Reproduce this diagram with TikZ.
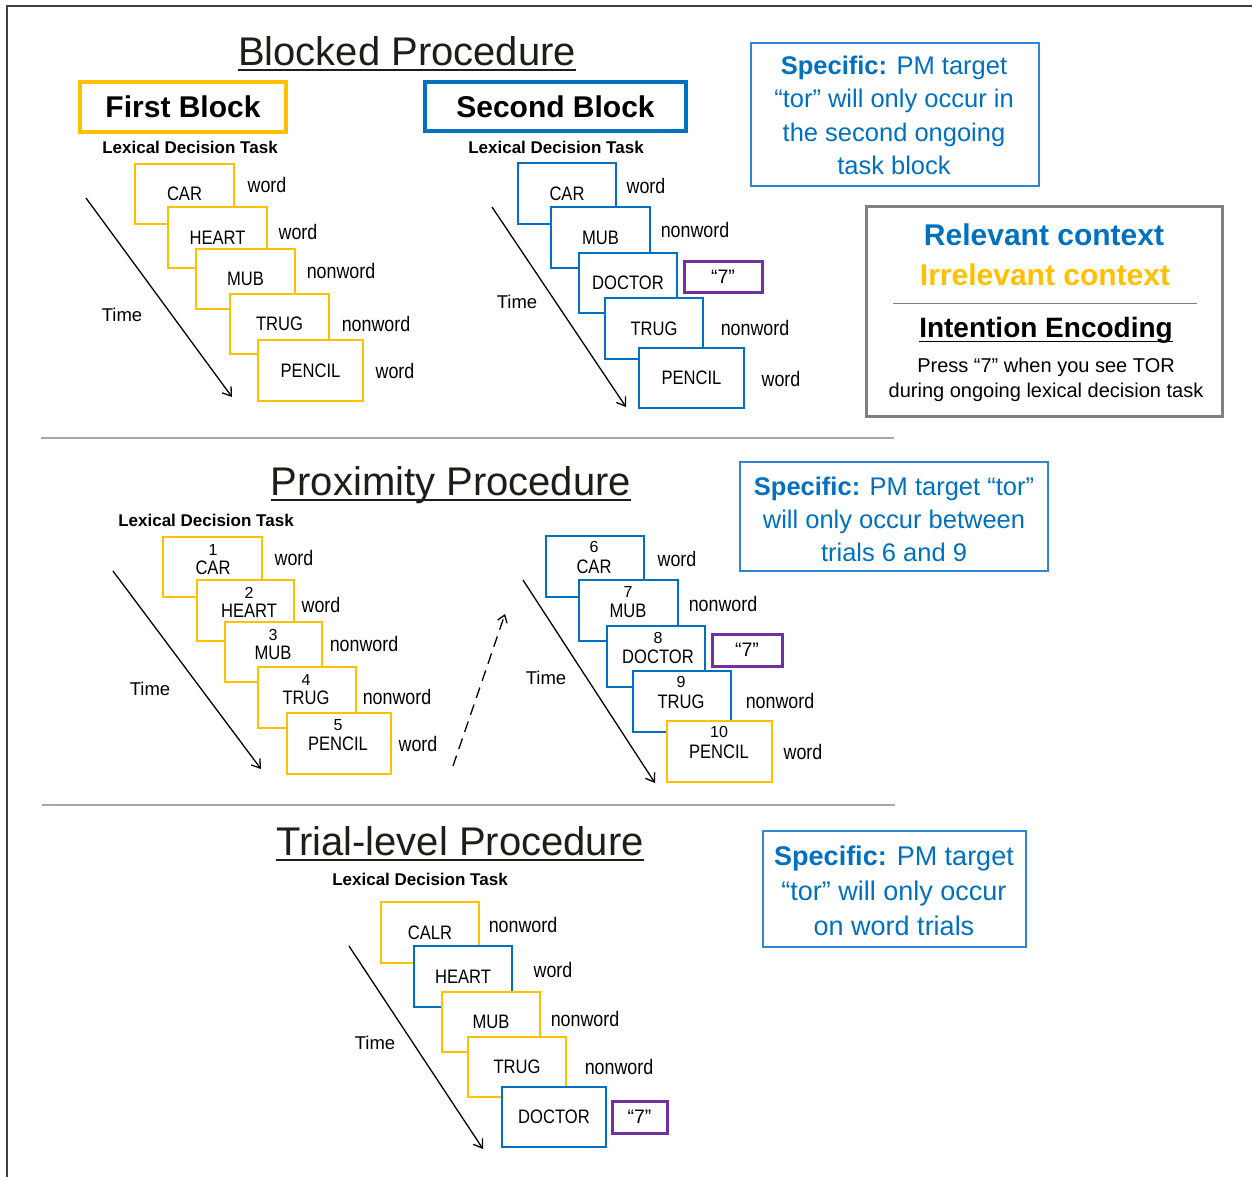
\documentclass[tikz,border=0pt]{standalone}
\usepackage{fontspec}
\setmainfont{Liberation Sans}
\newfontfamily\condf[FakeStretch=0.85]{Liberation Sans}
\usetikzlibrary{arrows.meta,calc}
\definecolor{gold}{HTML}{FFC000}
\definecolor{cblue}{HTML}{0070C0}
\definecolor{bblue}{HTML}{2E86D1}
\definecolor{pmc}{HTML}{7030A0}
\definecolor{sepc}{HTML}{A8A8A0}
\definecolor{framec}{HTML}{404040}
\definecolor{gboxc}{HTML}{808080}
\definecolor{ttlc}{HTML}{1E1E18}
\newcommand\fs[1]{\fontsize{#1}{#1}\selectfont}
% box macro: style, name, x1, y1, x2, y2, text
\newcommand\bx[7]{\node[#1, minimum width={(#5-#3)*1pt}, minimum height={(#6-#4)*1pt}] (#2) at ({(#3+#5)/2},{(#4+#6)/2}) {#7};}
\tikzset{
  card/.style={draw, line width=2pt, fill=white, inner sep=0pt, font=\condf\fs{19.5}},
  ylw/.style={card, draw=gold},
  blu/.style={card, draw=cblue},
  lbl/.style={font=\condf\fs{21}, inner sep=0pt},
  num/.style={font=\fs{16}, inner sep=0pt},
  wrd/.style={font=\condf\fs{19.5}, inner sep=0pt},
  timearrow/.style={line width=1.3pt, -{Straight Barb[length=8pt,width=11pt]}},
  timelbl/.style={font=\fs{18.5}, inner sep=0pt},
  ldt/.style={font=\bfseries\fs{17}, inner sep=0pt},
  ttl/.style={font=\fs{40}, text=ttlc, inner sep=0pt, anchor=base},
  uline/.style={line width=2pt, draw=ttlc},
  seven/.style={draw=pmc, line width=3pt, inner sep=0pt, font=\fs{19.5}},
  spec/.style={font=\fs{25.5}, text=cblue, inner sep=0pt, anchor=base},
  specbox/.style={draw=bblue, line width=1.5pt, inner sep=0pt},
  blockbox/.style={line width=3.5pt, inner sep=0pt, font=\bfseries\fs{30}},
  sepline/.style={draw=sepc, line width=1.5pt},
}
\begin{document}
\begin{tikzpicture}[x=1pt, y=-1pt]
\useasboundingbox (0,0) rectangle (1252,1177);
\fill[white] (0,0) rectangle (1252,1177);
% frame
\coordinate (fr1) at (7,1177);
\coordinate (fr2) at (7,6);
\coordinate (fr3) at (1252,6);
\draw[framec, line width=2pt] (fr1) -- (fr2) -- (fr3);
% separators
\coordinate (sa1) at (41,438); \coordinate (sa2) at (894,438);
\coordinate (sb1) at (42,805); \coordinate (sb2) at (895,805);
\draw[sepline] (sa1) -- (sa2);
\draw[sepline] (sb1) -- (sb2);

%%%%%%%%%%%%%%%% BLOCKED
\node[ttl] (t1) at (407,66) {Blocked Procedure};
\draw[uline] ($(t1.base west)+(0,4.5)$) -- ($(t1.base east)+(0,4.5)$);
\bx{blockbox, draw=gold}{fb}{80}{82}{286}{132}{First Block}
\bx{blockbox, draw=cblue}{sb}{425}{82}{686}{131}{Second Block}
\node[ldt] (ldt1) at (190,147) {Lexical Decision Task};
\node[ldt] (ldt2) at (556,147) {Lexical Decision Task};
% first block cards
\bx{ylw}{a1}{135}{164}{234}{224}{CAR}
\bx{ylw}{a2}{168}{207}{267}{268}{HEART}
\bx{ylw}{a3}{196}{249}{295}{309}{MUB}
\bx{ylw}{a4}{230}{294}{329}{354}{TRUG}
\bx{ylw}{a5}{258}{340}{363}{401}{PENCIL}
\node[lbl] (la1) at (267,185) {word};
\node[lbl] (la2) at (298,232) {word};
\node[lbl] (la3) at (341,271) {nonword};
\node[lbl] (la4) at (376,324) {nonword};
\node[lbl] (la5) at (395,371) {word};
\coordinate (ta1) at (86,198); \coordinate (ta2) at (232,397);
\draw[timearrow] (ta1) -- (ta2);
\node[timelbl] (tla) at (122,315) {Time};
% second block cards
\bx{blu}{b1}{518}{163}{616}{224}{CAR}
\bx{blu}{b2}{551}{207}{650}{268}{MUB}
\bx{blu}{b3}{579}{253}{677}{313}{DOCTOR}
\bx{blu}{b4}{605}{298}{703}{359}{TRUG}
\bx{blu}{b5}{639}{348}{744}{408}{PENCIL}
\node[lbl] (lb1) at (646,186) {word};
\node[lbl] (lb2) at (695,230) {nonword};
\bx{seven}{sv1}{684}{261}{762}{292}{“7”}
\node[lbl] (lb4) at (755,328) {nonword};
\node[lbl] (lb5) at (781,379) {word};
\coordinate (tb1) at (492,207); \coordinate (tb2) at (626,407);
\draw[timearrow] (tb1) -- (tb2);
\node[timelbl] (tlb) at (517,302) {Time};
% specific box 1
\bx{specbox}{sp1}{751}{43}{1039}{186}{}
\node[spec] (s1a) at (894,75) {\textbf{Specific:} PM target};
\node[spec] (s1b) at (894,108) {“tor” will only occur in};
\node[spec] (s1c) at (894,142) {the second ongoing};
\node[spec] (s1d) at (894,175) {task block};
% context box
\bx{draw=gboxc, line width=3pt, inner sep=0pt}{ctx}{866}{206}{1222}{416}{}
\node[font=\bfseries\fs{30}, text=cblue, inner sep=0pt, anchor=base] (rel) at (1044,245) {Relevant context};
\node[font=\bfseries\fs{30}, text=gold, inner sep=0pt, anchor=base] (irr) at (1045,285) {Irrelevant context};
\coordinate (cl1) at (893,303); \coordinate (cl2) at (1197,303);
\draw[draw=gboxc, line width=1pt] (cl1) -- (cl2);
\node[font=\bfseries\fs{28}, inner sep=0pt, anchor=base] (ie) at (1046,337) {Intention Encoding};
\draw[line width=1.8pt] ($(ie.base west)+(0,4.5)$) -- ($(ie.base east)+(0,4.5)$);
\node[font=\fs{20}, inner sep=0pt, anchor=base] (pr1) at (1046,372) {Press “7” when you see TOR};
\node[font=\fs{20}, inner sep=0pt, anchor=base] (pr2) at (1046,397) {during ongoing lexical decision task};

%%%%%%%%%%%%%%%% PROXIMITY
\node[ttl] (t2) at (451,495) {Proximity Procedure};
\draw[uline] ($(t2.base west)+(0,4.5)$) -- ($(t2.base east)+(0,4.5)$);
\node[ldt] (ldt3) at (206,520) {Lexical Decision Task};
\bx{ylw}{c1}{163}{537}{262}{597}{}
\bx{ylw}{c2}{197}{580}{294}{641}{}
\bx{ylw}{c3}{225}{622}{322}{682}{}
\bx{ylw}{c4}{258}{667}{356}{728}{}
\bx{ylw}{c5}{287}{713}{391}{774}{}
\node[num] (cn1) at (213,550) {1}; \node[wrd] (cw1) at (213,568) {CAR};
\node[num] (cn2) at (249,593) {2}; \node[wrd] (cw2) at (249,611) {HEART};
\node[num] (cn3) at (273,635) {3}; \node[wrd] (cw3) at (273,653) {MUB};
\node[num] (cn4) at (306,680) {4}; \node[wrd] (cw4) at (306,698) {TRUG};
\node[num] (cn5) at (338,725) {5}; \node[wrd] (cw5) at (338,744) {PENCIL};
\node[lbl] (lc1) at (294,558) {word};
\node[lbl] (lc2) at (321,605) {word};
\node[lbl] (lc3) at (364,644) {nonword};
\node[lbl] (lc4) at (397,697) {nonword};
\node[lbl] (lc5) at (418,744) {word};
\coordinate (tc1) at (113,571); \coordinate (tc2) at (261,769);
\draw[timearrow] (tc1) -- (tc2);
\node[timelbl] (tlc) at (150,689) {Time};
\coordinate (dd1) at (453,766); \coordinate (dd2) at (505,614);
\draw[line width=1.3pt, dash pattern=on 11pt off 7pt, -{Straight Barb[length=7pt,width=10pt]}] (dd1) -- (dd2);
% right cards
\bx{blu}{d1}{546}{536}{644}{597}{}
\bx{blu}{d2}{579}{580}{678}{641}{}
\bx{blu}{d3}{607}{626}{705}{687}{}
\bx{blu}{d4}{633}{671}{731}{732}{}
\bx{ylw}{d5}{667}{721}{772}{782}{}
\node[num] (dn1) at (594,547) {6}; \node[wrd] (dw1) at (594,567) {CAR};
\node[num] (dn2) at (628,592) {7}; \node[wrd] (dw2) at (628,611) {MUB};
\node[num] (dn3) at (658,638) {8}; \node[wrd] (dw3) at (658,657) {DOCTOR};
\node[num] (dn4) at (681,682) {9}; \node[wrd] (dw4) at (681,702) {TRUG};
\node[num] (dn5) at (719,732) {10}; \node[wrd] (dw5) at (719,752) {PENCIL};
\node[lbl] (ld1) at (677,559) {word};
\node[lbl] (ld2) at (723,604) {nonword};
\bx{seven}{sv2}{712}{634}{782}{666}{“7”}
\node[lbl] (ld4) at (780,701) {nonword};
\node[lbl] (ld5) at (803,752) {word};
\coordinate (td1) at (523,580); \coordinate (td2) at (655,783);
\draw[timearrow] (td1) -- (td2);
\node[timelbl] (tld) at (546,678) {Time};
% specific box 2
\bx{specbox}{sp2}{740}{462}{1048}{571}{}
\node[spec] (s2a) at (894,495) {\textbf{Specific:} PM target “tor”};
\node[spec] (s2b) at (894,528) {will only occur between};
\node[spec] (s2c) at (894,561) {trials 6 and 9};

%%%%%%%%%%%%%%%% TRIAL-LEVEL
\node[ttl] (t3) at (460,855) {Trial-level Procedure};
\draw[uline] ($(t3.base west)+(0,4.5)$) -- ($(t3.base east)+(0,4.5)$);
\node[ldt] (ldt4) at (420,879) {Lexical Decision Task};
\bx{ylw}{e1}{381}{902}{479}{963}{CALR}
\bx{blu}{e2}{414}{946}{512}{1007}{HEART}
\bx{ylw}{e3}{442}{992}{540}{1052}{MUB}
\bx{ylw}{e4}{468}{1037}{566}{1097}{TRUG}
\bx{blu}{e5}{502}{1087}{606}{1147}{DOCTOR}
\node[lbl] (le1) at (523,925) {nonword};
\node[lbl] (le2) at (553,970) {word};
\node[lbl] (le3) at (585,1019) {nonword};
\node[lbl] (le4) at (619,1067) {nonword};
\bx{seven}{sv3}{612}{1101}{667}{1133}{“7”}
\coordinate (te1) at (349,946); \coordinate (te2) at (483,1149);
\draw[timearrow] (te1) -- (te2);
\node[timelbl] (tle) at (375,1043) {Time};
% specific box 3
\bx{specbox}{sp3}{763}{831}{1026}{947}{}
\node[spec, font=\fs{27}] (s3a) at (894,865) {\textbf{Specific:} PM target};
\node[spec, font=\fs{27}] (s3b) at (894,900) {“tor” will only occur};
\node[spec, font=\fs{27}] (s3c) at (894,935) {on word trials};
\end{tikzpicture}
\end{document}
